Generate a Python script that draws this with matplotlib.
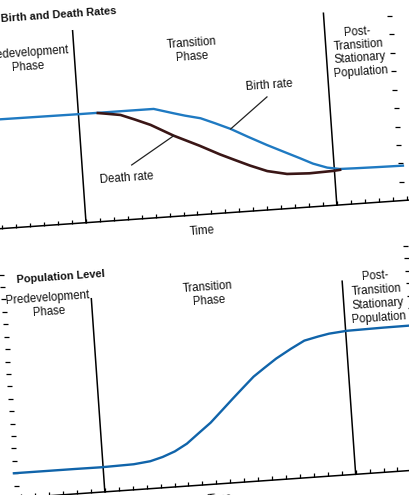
import numpy as np
import matplotlib
matplotlib.use("Agg")
import matplotlib.pyplot as plt
import matplotlib.transforms as mtransforms

# narrow Helvetica look: Liberation Sans at a small size keeps the widths right
plt.rcParams['font.family'] = ['Liberation Sans', 'DejaVu Sans']

# ---- data (time in tick units) ----
time_birth = [0.0, 3.0, 6.0, 9.0, 11.4, 12.8, 13.6, 14.7, 15.7, 16.8, 18.0, 19.3,
              20.5, 21.6, 22.5, 23.5, 24.4, 25.5, 27.0, 29.0]
birth_rate = [5.90, 5.89, 5.88, 5.88, 5.88, 5.57, 5.40, 5.20, 4.88, 4.51, 4.02, 3.51,
              3.07, 2.67, 2.33, 2.06, 1.94, 1.92, 1.90, 1.88]

time_death = [7.3, 8.0, 9.0, 10.0, 11.1, 12.7, 13.6, 14.5, 15.9, 17.0, 18.0, 19.2,
              20.6, 22.2, 23.9, 24.5]
death_rate = [5.88, 5.80, 5.68, 5.38, 5.03, 4.36, 4.04, 3.72, 3.18, 2.80, 2.46, 2.10,
              1.87, 1.82, 1.86, 1.90]

time_pop = [-0.4, 2.0, 4.0, 5.9, 8.2, 9.4, 10.3, 11.2, 12.1, 13.0, 13.9, 14.8, 15.6,
            16.4, 17.2, 18.0, 18.9, 20.0, 21.0, 22.0, 22.8, 24.1, 26.7, 29.2]
population = [2.00, 2.00, 2.00, 1.99, 2.05, 2.20, 2.47, 2.85, 3.40, 4.18, 4.95, 5.90, 6.75,
              7.58, 8.40, 9.03, 9.72, 10.42, 11.00, 11.25, 11.42, 11.55, 11.60, 11.62]

phase_bounds = [6.0, 24.0]      # predevelopment | transition | post-transition
time_ticks = np.arange(0, 30)
rate_ticks = np.arange(1, 11)
pop_ticks = np.arange(1, 19)

BLUE_TOP = '#1f7ac2'
BLUE_BOT = '#1064aa'
BROWN = '#3a1616'
ANGLE = 4.0   # the scan is slightly tilted
FS = 8.3      # label size
FS_TITLE = 7.9

fig = plt.figure(figsize=(4.09, 4.95), dpi=100)
# tilt everything around the middle of the picture (display pixels)
rot = mtransforms.Affine2D().rotate_deg_around(204.5, 247.5, ANGLE)

ax1 = fig.add_axes([0.0103, 0.5667, 0.9905, 0.3737])
ax1.set_xlim(0, 29)
ax1.set_ylim(0, 10)
ax2 = fig.add_axes([0.0103, 0.0216, 0.9905, 0.4527])
ax2.set_xlim(0, 29)
ax2.set_ylim(0, 18)


def tr(ax):
    return ax.transData + rot


def txt(ax, x, y, s, **kw):
    kw.setdefault('fontsize', FS)
    kw.setdefault('ha', 'center')
    kw.setdefault('va', 'center')
    ax.text(x, y, s, transform=tr(ax), rotation=ANGLE, rotation_mode='anchor',
            clip_on=False, color='#111111', **kw)


def frame(ax, top, yticks, left_x, right_x):
    ax.axis('off')
    t = tr(ax)
    ax.plot([-0.5, 29.6], [0, 0], color='k', lw=1.1, transform=t, clip_on=False)
    ax.plot(time_ticks, np.zeros(len(time_ticks)), ls='none', marker=2, ms=3.2,
            mew=0.9, color='k', transform=t, clip_on=False)
    ax.plot(np.full(len(yticks), right_x), yticks, ls='none', marker=0, ms=3.6,
            mew=0.9, color='k', transform=t, clip_on=False)
    if left_x is not None:
        ax.plot(np.full(len(yticks), left_x), yticks, ls='none', marker=1, ms=3.6,
                mew=0.9, color='k', transform=t, clip_on=False)
    for b in phase_bounds:
        ax.plot([b, b], [0, top], color='k', lw=1.1, transform=t, clip_on=False)


# ---- top panel: birth and death rates ----
frame(ax1, 10.4, rate_ticks, None, 28.9)
ax1.plot(time_birth, birth_rate, color=BLUE_TOP, lw=1.7, transform=tr(ax1), clip_on=False,
         solid_capstyle='butt')
ax1.plot(time_death, death_rate, color=BROWN, lw=1.9, transform=tr(ax1), clip_on=False,
         solid_capstyle='butt')

txt(ax1, 0.9, 11.3, 'Birth and Death Rates', ha='left', fontsize=FS_TITLE, fontweight='bold')
txt(ax1, 2.63, 9.0, 'Predevelopment\nPhase', linespacing=1.25)
txt(ax1, 14.43, 8.91, 'Transition\nPhase', linespacing=1.2)
txt(ax1, 26.35, 8.18, 'Post-\nTransition\nStationary\nPopulation', linespacing=1.17)
txt(ax1, 19.76, 6.74, 'Birth rate')
txt(ax1, 9.15, 2.26, 'Death rate')
txt(ax1, 14.24, -0.89, 'Time')
# leader lines from the labels to the curves
ax1.plot([19.55, time_birth[9]], [6.1, birth_rate[9]], color='#222222', lw=0.9,
         transform=tr(ax1), clip_on=False)
ax1.plot([9.55, time_death[5]], [2.94, death_rate[5]], color='#222222', lw=0.9,
         transform=tr(ax1), clip_on=False)

# ---- bottom panel: population level ----
frame(ax2, 15.55, pop_ticks, -0.45, 28.9)
ax2.plot(time_pop, population, color=BLUE_BOT, lw=1.7, transform=tr(ax2), clip_on=False)

txt(ax2, 0.78, 17.46, 'Population Level', ha='left', fontsize=FS_TITLE, fontweight='bold')
txt(ax2, 2.88, 15.29, 'Predevelopment\nPhase', linespacing=1.2)
txt(ax2, 14.36, 15.27, 'Transition\nPhase', linespacing=1.2)
txt(ax2, 26.41, 14.09, 'Post-\nTransition\nStationary\nPopulation', linespacing=1.2)
txt(ax2, 14.2, -1.25, 'Time')

fig.savefig('out.png', dpi=100)
